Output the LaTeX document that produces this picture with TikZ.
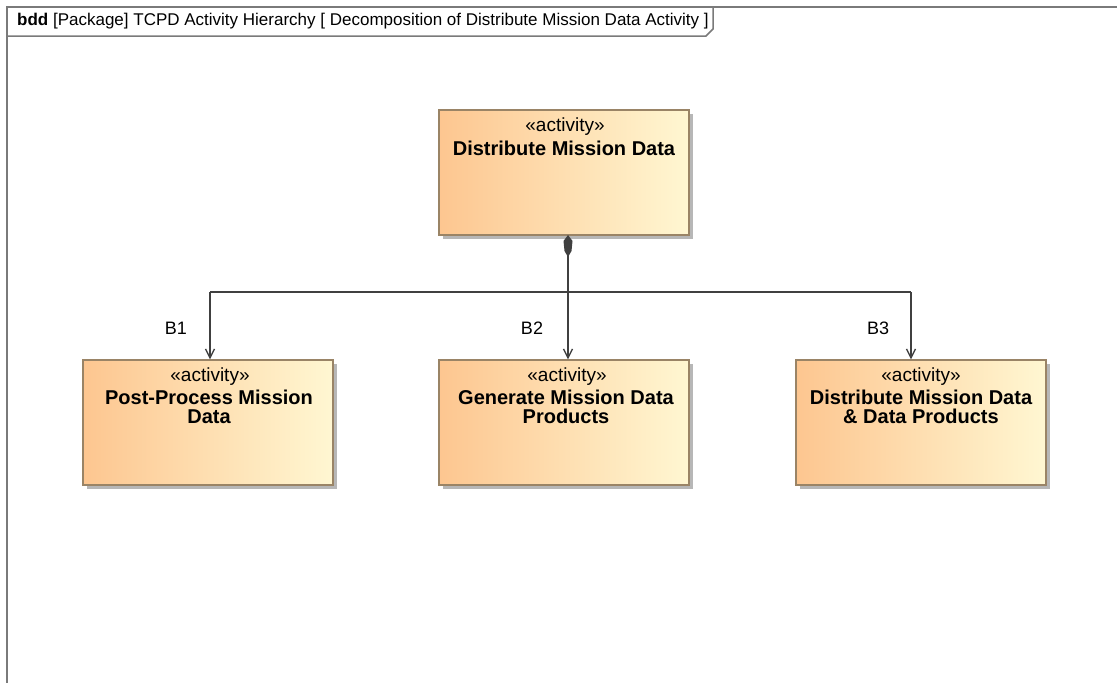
\documentclass[tikz,border=0pt]{standalone}
\usepackage{fontspec}
\setmainfont{Liberation Sans}
\usetikzlibrary{arrows.meta,shadows}
\definecolor{framegray}{HTML}{7A7A7A}
\definecolor{boxedge}{HTML}{9A8466}
\definecolor{fillA}{HTML}{FDC690}
\definecolor{fillB}{HTML}{FFF7D2}
\definecolor{linkgray}{HTML}{404040}
\tikzset{
  activity/.style={draw=boxedge, line width=1.3pt, minimum width=250pt, minimum height=125pt,
    shading=axis, left color=fillA, right color=fillB,
    drop shadow={shadow xshift=4pt, shadow yshift=-4pt, fill=black!35, opacity=0.8},
    inner sep=0pt},
  stereo/.style={font=\fontsize{19}{20}\selectfont},
  bname/.style={font=\fontsize{20}{19.5}\selectfont\bfseries, align=center},
  link/.style={draw=linkgray, line width=1.4pt},
  role/.style={font=\fontsize{18}{20}\selectfont},
}
\begin{document}
\begin{tikzpicture}[x=1pt,y=-1pt]
\useasboundingbox (0,0) rectangle (1117,683);
\clip (0,0) rectangle (1117,683);
\fill[white] (0,0) rectangle (1117,683);
% diagram frame with its name tab
\draw[framegray, line width=2pt] (7,1200) -- (7,7) -- (1300,7);
\draw[framegray, line width=1.5pt] (7,36) -- (706,36) -- (713,29) -- (713,7);
\node[anchor=west, inner sep=0pt, font=\fontsize{17}{20}\selectfont] (title) at (17,21)
  {\textbf{bdd} [Package] TCPD Activity Hierarchy [ Decomposition of Distribute Mission Data Activity ]};

% blocks
\node[activity] (top) at (564,172.5) {};
\node[activity] (b1) at (208,422.5) {};
\node[activity] (b2) at (564,422.5) {};
\node[activity] (b3) at (921,422.5) {};

\node[stereo] (topst) at (565,127) {«activity»};
\node[bname] (topnm) at (564,148) {Distribute Mission Data};
\node[stereo] (b1st) at (210,377) {«activity»};
\node[bname] (b1nm) at (209,407) {Post-Process Mission\\Data};
\node[stereo] (b2st) at (567,377) {«activity»};
\node[bname] (b2nm) at (566,407) {Generate Mission Data\\Products};
\node[stereo] (b3st) at (921,377) {«activity»};
\node[bname] (b3nm) at (921,407) {Distribute Mission Data\\\& Data Products};

% composition connectors
\coordinate (j) at (568,292);
\coordinate (j1) at (210,292);
\coordinate (j3) at (911,292);
\draw[link] (top.south -| j) -- (j);
\fill[linkgray] (568,235) -- (572.5,241) -- (571.5,251) -- (568,257) -- (564.5,251) -- (563.5,241) -- cycle;
\draw[link] (j1) -- (j3);
\draw[link, -{Straight Barb[length=9pt,width=9pt,line width=1.3pt]}] (j1) -- (j1 |- b1.north);
\draw[link, -{Straight Barb[length=9pt,width=9pt,line width=1.3pt]}] (j) -- (j |- b2.north);
\draw[link, -{Straight Barb[length=9pt,width=9pt,line width=1.3pt]}] (j3) -- (j3 |- b3.north);

\node[role] (r1) at (176,328) {B1};
\node[role] (r2) at (532,328) {B2};
\node[role] (r3) at (878,328) {B3};
\end{tikzpicture}
\end{document}
